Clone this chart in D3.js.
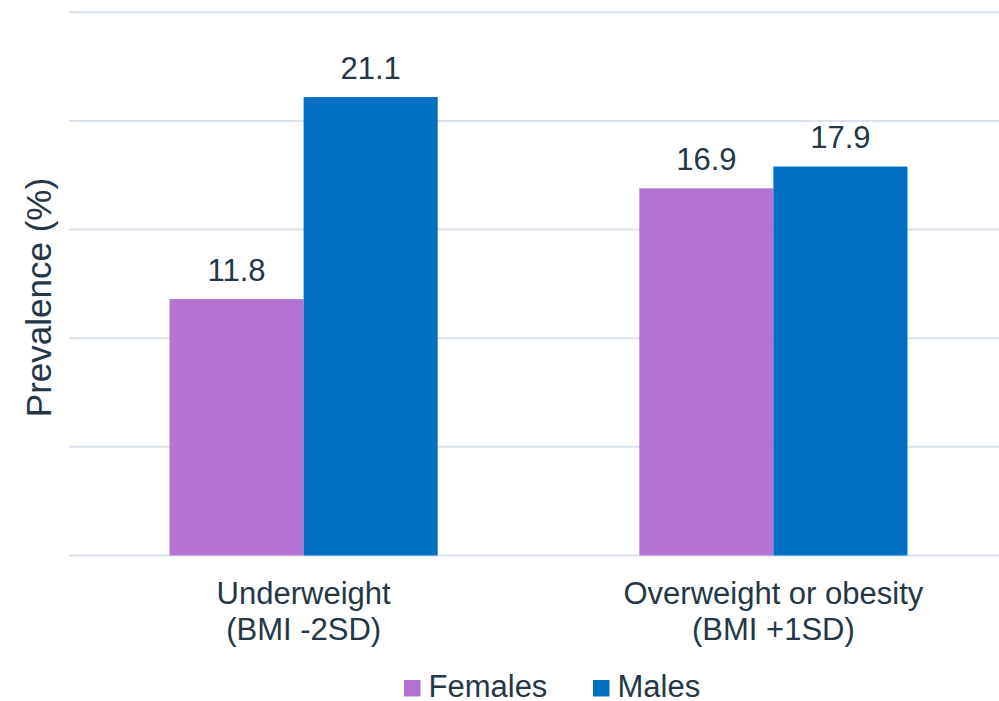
<!DOCTYPE html>
<html>
<head>
<meta charset="utf-8">
<script src="https://cdn.jsdelivr.net/npm/d3@7/dist/d3.min.js"></script>
<style>
  html, body { margin: 0; padding: 0; background: #ffffff; }
  svg { display: block; }
  text { font-family: "Liberation Sans", Arial, sans-serif; fill: #253746; }
</style>
</head>
<body>
<svg id="chart" width="999" height="701"></svg>
<script>
// Prevalence of underweight and overweight/obesity by sex
const categories = [["Underweight", "(BMI -2SD)"], ["Overweight or obesity", "(BMI +1SD)"]];
const categoryKeys = ["underweight", "overweight"];
const seriesNames = ["Females", "Males"];
const females = [11.8, 16.9];
const males = [21.1, 17.9];
const yTicks = [0, 5, 10, 15, 20, 25];
const colors = ["#B373D5", "#0070C0"];

const seriesValues = [females, males];
const rows = categoryKeys.map((key, i) => ({
  key,
  label: categories[i],
  values: seriesNames.map((name, s) => ({ name, value: seriesValues[s][i], color: colors[s] }))
}));

const svg = d3.select("#chart");

const x0 = d3.scaleBand()
  .domain(categoryKeys)
  .range([68.75, 1008.25])
  .paddingInner(0)
  .paddingOuter(0);

const x1 = d3.scaleBand()
  .domain(seriesNames)
  .range([0, x0.bandwidth()])
  .paddingInner(0)
  .paddingOuter(0.752);

const y = d3.scaleLinear()
  .domain([0, 25])
  .range([555.5, 12.3]);

// Horizontal gridlines
svg.append("g")
  .selectAll("line")
  .data(yTicks)
  .join("line")
  .attr("x1", 69)
  .attr("x2", 999)
  .attr("y1", d => y(d))
  .attr("y2", d => y(d))
  .attr("stroke", "#D9E2EC")
  .attr("stroke-width", 2);

// Bars
const groups = svg.append("g")
  .selectAll("g")
  .data(rows)
  .join("g")
  .attr("transform", d => `translate(${x0(d.key)},0)`);

groups.selectAll("rect")
  .data(d => d.values)
  .join("rect")
  .attr("x", d => x1(d.name))
  .attr("width", x1.bandwidth())
  .attr("y", d => y(d.value))
  .attr("height", d => y(0) - y(d.value))
  .attr("fill", d => d.color);

// Value labels
groups.selectAll("text.value")
  .data(d => d.values)
  .join("text")
  .attr("class", "value")
  .attr("x", d => x1(d.name) + x1.bandwidth() / 2)
  .attr("y", d => y(d.value) - 18.5)
  .attr("text-anchor", "middle")
  .attr("font-size", 31)
  .text(d => d.value.toFixed(1));

// Category axis labels
const xAxis = svg.append("g");
rows.forEach(r => {
  const t = xAxis.append("text")
    .attr("x", x0(r.key) + x0.bandwidth() / 2)
    .attr("y", 604)
    .attr("text-anchor", "middle")
    .attr("font-size", 31);
  r.label.forEach((line, i) => {
    t.append("tspan")
      .attr("x", x0(r.key) + x0.bandwidth() / 2)
      .attr("dy", i === 0 ? 0 : 36)
      .text(line);
  });
});

// Y axis title
svg.append("text")
  .attr("transform", "translate(50.5,297.5) rotate(-90)")
  .attr("text-anchor", "middle")
  .attr("font-size", 35)
  .text("Prevalence (%)");

// Legend
const legendItems = [
  { name: seriesNames[0], color: colors[0], x: 404 },
  { name: seriesNames[1], color: colors[1], x: 593 }
];
const legend = svg.append("g");
legendItems.forEach(item => {
  legend.append("rect")
    .attr("x", item.x)
    .attr("y", 680)
    .attr("width", 16.5)
    .attr("height", 16.5)
    .attr("fill", item.color);
  legend.append("text")
    .attr("x", item.x + 24.5)
    .attr("y", 697)
    .attr("font-size", 31)
    .text(item.name);
});
</script>
</body>
</html>
